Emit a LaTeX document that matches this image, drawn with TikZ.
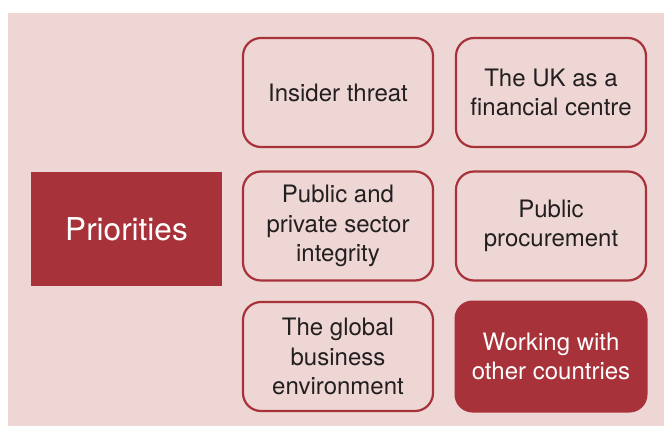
\documentclass[tikz,border=0pt]{standalone}
\usepackage{fontspec}
\setmainfont{TeX Gyre Heros}
\definecolor{bgpink}{HTML}{EDD6D3}
\definecolor{prired}{HTML}{A8323A}
\definecolor{txtdark}{HTML}{231F20}
\begin{document}
\begin{tikzpicture}[x=1pt,y=-1pt,
  item/.style={draw=prired, line width=2.2pt, rounded corners=18pt, minimum width=190pt, minimum height=109pt,
    inner sep=0pt, align=center, text=txtdark, font=\fontsize{24}{29.3}\selectfont},
  itemfill/.style={fill=prired, rounded corners=18pt, minimum width=193pt, minimum height=112pt,
    inner sep=0pt, align=center, text=white, font=\fontsize{24}{29.3}\selectfont},
  prio/.style={fill=prired, minimum width=191pt, minimum height=114pt, inner sep=0pt, text=white,
    font=\fontsize{31.5}{36}\selectfont}]
\useasboundingbox (0,0) rectangle (664,426);
\fill[bgpink] (8,13) rectangle (664,426);
\node[prio] (pri) at (126.5,229) {Priorities};
\node[item] (a) at (338,92.5) {Insider threat};
\node[item] (b) at (551,92.5) {The UK as a\\financial centre};
\node[item] (c) at (338,226) {Public and\\private sector\\integrity};
\node[item] (d) at (551,226) {Public\\procurement};
\node[item] (e) at (338,356.5) {The global\\business\\environment};
\node[itemfill] (f) at (551,356.5) {Working with\\other countries};
\end{tikzpicture}
\end{document}
